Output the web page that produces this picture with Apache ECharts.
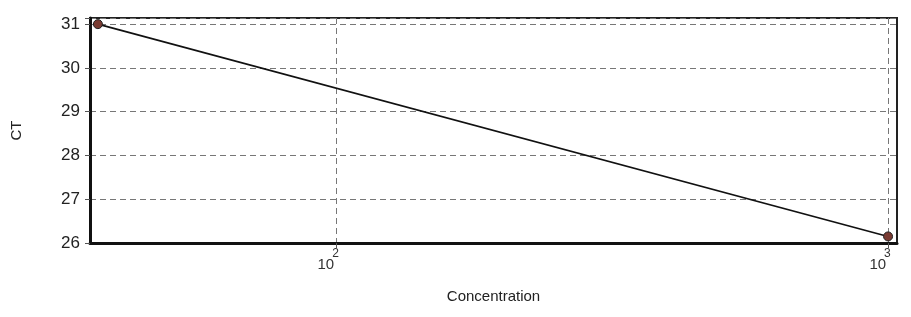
<!DOCTYPE html>
<html>
<head>
<meta charset="utf-8">
<title>CT vs Concentration</title>
<style>
  html, body { margin: 0; padding: 0; background: #fff; }
  #chart { width: 911px; height: 317px; }
</style>
</head>
<body>
<div id="chart"></div>
<script src="https://cdn.jsdelivr.net/npm/echarts@6/dist/echarts.min.js"></script>
<script>
// data
var concentration = [37, 1000];
var ctValues = [31.0, 26.15];
var yTicks = [26, 27, 28, 29, 30, 31];
var xDecades = [100, 1000];

var points = concentration.map(function (c, i) { return [c, ctValues[i]]; });

var chart = echarts.init(document.getElementById('chart'));

var option = {
  backgroundColor: '#fff',
  textStyle: { fontFamily: 'Liberation Sans, Arial, sans-serif' },
  grid: {
    left: 90, top: 18, right: 14, bottom: 74,
    show: true,
    borderColor: '#222',
    borderWidth: 2,
    backgroundColor: '#fff'
  },
  xAxis: {
    type: 'log',
    logBase: 10,
    min: 35.8,
    max: 1038,
    name: 'Concentration',
    nameLocation: 'middle',
    nameGap: 46,
    nameTextStyle: { fontSize: 15, color: '#222' },
    axisLine: { lineStyle: { color: '#111', width: 3 } },
    axisTick: {
      length: 5,
      lineStyle: { color: '#555' },
      customValues: xDecades
    },
    axisLabel: {
      customValues: xDecades,
      margin: 5,
      padding: [0, 16, 0, 0],
      formatter: function (v) {
        var e = Math.round(Math.log10(v));
        return '{b|10}{e|' + e + '}';
      },
      rich: {
        b: { fontSize: 15, color: '#333', verticalAlign: 'bottom', lineHeight: 24 },
        e: { fontSize: 12, color: '#333', verticalAlign: 'top', lineHeight: 24, padding: [0, 0, 0, -2] }
      }
    },
    splitLine: {
      show: true,
      lineStyle: { color: '#777', type: [6, 4], width: 1 }
    },
    minorTick: { show: false }
  },
  yAxis: {
    type: 'value',
    min: 26,
    max: 31.14,
    interval: 1,
    name: 'CT',
    nameLocation: 'middle',
    nameRotate: 90,
    nameGap: 66,
    nameTextStyle: { fontSize: 15, color: '#222' },
    axisLine: { show: true, lineStyle: { color: '#111', width: 3 } },
    axisTick: { show: true, length: 5, lineStyle: { color: '#555' } },
    axisLabel: {
      fontSize: 17,
      color: '#222',
      margin: 10,
      formatter: function (v) {
        return yTicks.indexOf(v) >= 0 ? String(v) : '';
      }
    },
    splitLine: {
      show: true,
      lineStyle: { color: '#777', type: [6, 4], width: 1 }
    }
  },
  series: [{
    type: 'line',
    data: points,
    symbol: 'circle',
    symbolSize: 9,
    itemStyle: { color: '#7a3b32', borderColor: '#222', borderWidth: 1 },
    lineStyle: { color: '#111', width: 1.6 },
    animation: false
  }]
};

chart.setOption(option);
</script>
</body>
</html>
